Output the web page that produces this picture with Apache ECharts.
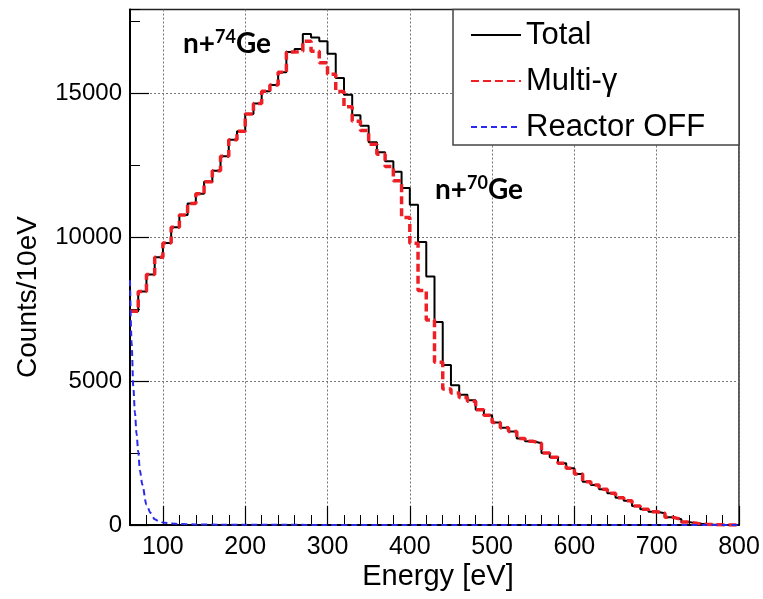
<!DOCTYPE html>
<html><head><meta charset="utf-8">
<script src="https://cdn.jsdelivr.net/npm/echarts@6/dist/echarts.min.js"></script>
<style>html,body{margin:0;padding:0;background:#fff}#c{width:763px;height:599px}</style>
</head><body><div id="c"></div>
<script>
// ---- data ----
const binLowEdges = [60,70,80,90,100,110,120,130,140,150,160,170,180,190,200,210,220,230,240,250,
  260,270,280,290,300,310,320,330,340,350,360,370,380,390,400,410,420,430,440,450,
  460,470,480,490,500,510,520,530,540,550,560,570,580,590,600,610,620,630,640,650,
  660,670,680,690,700,710,720,730,740,750,760,770,780,790];
const histUpperEdge = 800;
const totalCounts = [7420,8110,8700,9300,9790,10340,10760,11160,11500,11920,12300,12800,13380,13670,14270,14640,15060,15280,15720,16420,
  16530,17050,16930,16800,16360,15520,14940,14230,13860,13290,12940,12630,12270,11700,11120,9830,8630,7050,5560,4850,
  4520,4330,4000,3810,3555,3375,3243,3000,2905,2838,2500,2351,2142,1969,1770,1500,1390,1240,1100,950,
  845,660,544,463,405,266,197,100,50,25,12,5,2,0];
const multiGammaCounts = [7420,8110,8700,9300,9790,10340,10760,11160,11500,11920,12300,12800,13380,13670,14270,14640,15060,15280,15720,16420,
  16450,16800,16450,16050,15650,15050,14520,14020,13700,13220,12870,12450,11950,10680,9780,8140,7120,5650,4720,4580,
  4430,4300,4000,3810,3555,3375,3243,3000,2905,2838,2500,2351,2142,1969,1770,1500,1390,1240,1100,950,
  845,660,544,463,405,266,197,100,50,25,12,5,2,0];
const offEnergy = [60,62,64,66,68,70,72,75,80,85,90,95,100,110,120,140,170,200,250,300,400,500,600,700,800];
const offCounts = [8500,6300,4800,3900,3150,2550,1900,1400,700,420,200,130,85,50,35,20,12,8,5,3,2,1,1,0,0];
const xTickValues = [100,200,300,400,500,600,700,800];
const yTickValues = [0,5000,10000,15000];
const seriesNames = ['Total','Multi-\u03b3','Reactor OFF'];

// ---- build ----
function histData(edges, counts, upper){
  const d = edges.map((e,i)=>[e, counts[i]]);
  d.push([upper, counts[counts.length-1]]);
  return d;
}
const FONT = 'Liberation Sans';
const plain = v => String(v);
const annRich = {
  b:{fontSize:28, fontWeight:'bold', fontFamily:'Lato', lineHeight:32},
  s:{fontSize:18, fontWeight:'bold', fontFamily:'Lato', lineHeight:18, verticalAlign:'top'}
};
const chart = echarts.init(document.getElementById('c'), null, {renderer:'canvas'});
chart.setOption({
  animation:false,
  backgroundColor:'#fff',
  grid:{left:130, right:24, top:9.5, bottom:74, show:true, borderColor:'#222', borderWidth:1.5, backgroundColor:'transparent'},
  xAxis:[
    {type:'value', min:60, max:800, position:'bottom',
     axisLine:{show:true, onZero:false, lineStyle:{color:'#000', width:2}},
     axisTick:{show:true, inside:true, length:19, customValues:xTickValues, lineStyle:{color:'#000', width:1.2}},
     axisLabel:{show:true, customValues:xTickValues, formatter:plain, fontSize:25, color:'#000', fontFamily:FONT, margin:10},
     splitLine:{show:true, lineStyle:{type:[2,2], color:'#777', width:1}}},
    {type:'value', min:60, max:800, interval:20, position:'bottom', gridIndex:0,
     axisLine:{show:false}, axisTick:{show:true, inside:true, length:10, lineStyle:{color:'#000', width:1}},
     axisLabel:{show:false}, splitLine:{show:false}}
  ],
  yAxis:[
    {type:'value', min:0, max:17900, position:'left',
     axisLine:{show:true, onZero:false, lineStyle:{color:'#000', width:2}},
     axisTick:{show:true, inside:true, length:19, customValues:yTickValues, lineStyle:{color:'#000', width:1.2}},
     axisLabel:{show:true, customValues:yTickValues, formatter:plain, fontSize:24, color:'#000', fontFamily:FONT, margin:8},
     splitLine:{show:true, lineStyle:{type:[2,2], color:'#777', width:1}}},
    {type:'value', min:0, max:17900, interval:2500, position:'left', gridIndex:0,
     axisLine:{show:false}, axisTick:{show:true, inside:true, length:10, lineStyle:{color:'#000', width:1}},
     axisLabel:{show:false}, splitLine:{show:false}}
  ],
  legend:{
    show:true, orient:'vertical', left:465, top:13, itemWidth:50, itemHeight:4, itemGap:12,
    data:seriesNames,
    itemStyle:{opacity:0},
    textStyle:{fontSize:31, fontFamily:FONT, color:'#000', lineHeight:34},
    z:10
  },
  graphic:[
    {type:'rect', z:5, shape:{x:453, y:9.5, width:286, height:135.5}, style:{fill:'#fff', stroke:'#444', lineWidth:1.5}},
    {type:'text', z:6, x:28, y:297, rotation:Math.PI/2,
     style:{text:'Counts/10eV', font:'28px "Liberation Sans"', fill:'#000', align:'center', verticalAlign:'middle'}},
    {type:'text', z:6, x:438, y:577,
     style:{text:'Energy [eV]', font:'29px "Liberation Sans"', fill:'#000', align:'center', verticalAlign:'middle'}},
    {type:'text', z:6, x:183, y:44,
     style:{text:'{b|n+}{s|74}{b|Ge}', fill:'#000', align:'left', verticalAlign:'middle', rich:annRich}},
    {type:'text', z:6, x:435, y:190,
     style:{text:'{b|n+}{s|70}{b|Ge}', fill:'#000', align:'left', verticalAlign:'middle', rich:annRich}}
  ],
  series:[
    {name:seriesNames[0], type:'line', step:'end', xAxisIndex:0, yAxisIndex:0, showSymbol:false, symbol:'none',
     data:histData(binLowEdges,totalCounts,histUpperEdge), z:3,
     lineStyle:{color:'#000', width:2}, itemStyle:{color:'#000'}},
    {name:seriesNames[1], type:'line', step:'end', xAxisIndex:0, yAxisIndex:0, showSymbol:false, symbol:'none',
     data:histData(binLowEdges,multiGammaCounts,histUpperEdge), z:4,
     lineStyle:{color:'#ee2026', width:3.5, type:[8,4]}, itemStyle:{color:'#ee2026'}},
    {name:seriesNames[2], type:'line', smooth:0.3, smoothMonotone:'x', xAxisIndex:0, yAxisIndex:0, showSymbol:false, symbol:'none',
     data:offEnergy.map((e,i)=>[e, offCounts[i]]), z:5,
     lineStyle:{color:'#2a2aee', width:2, type:[6,4]}, itemStyle:{color:'#2a2aee'}}
  ]
});
</script>
</body></html>
